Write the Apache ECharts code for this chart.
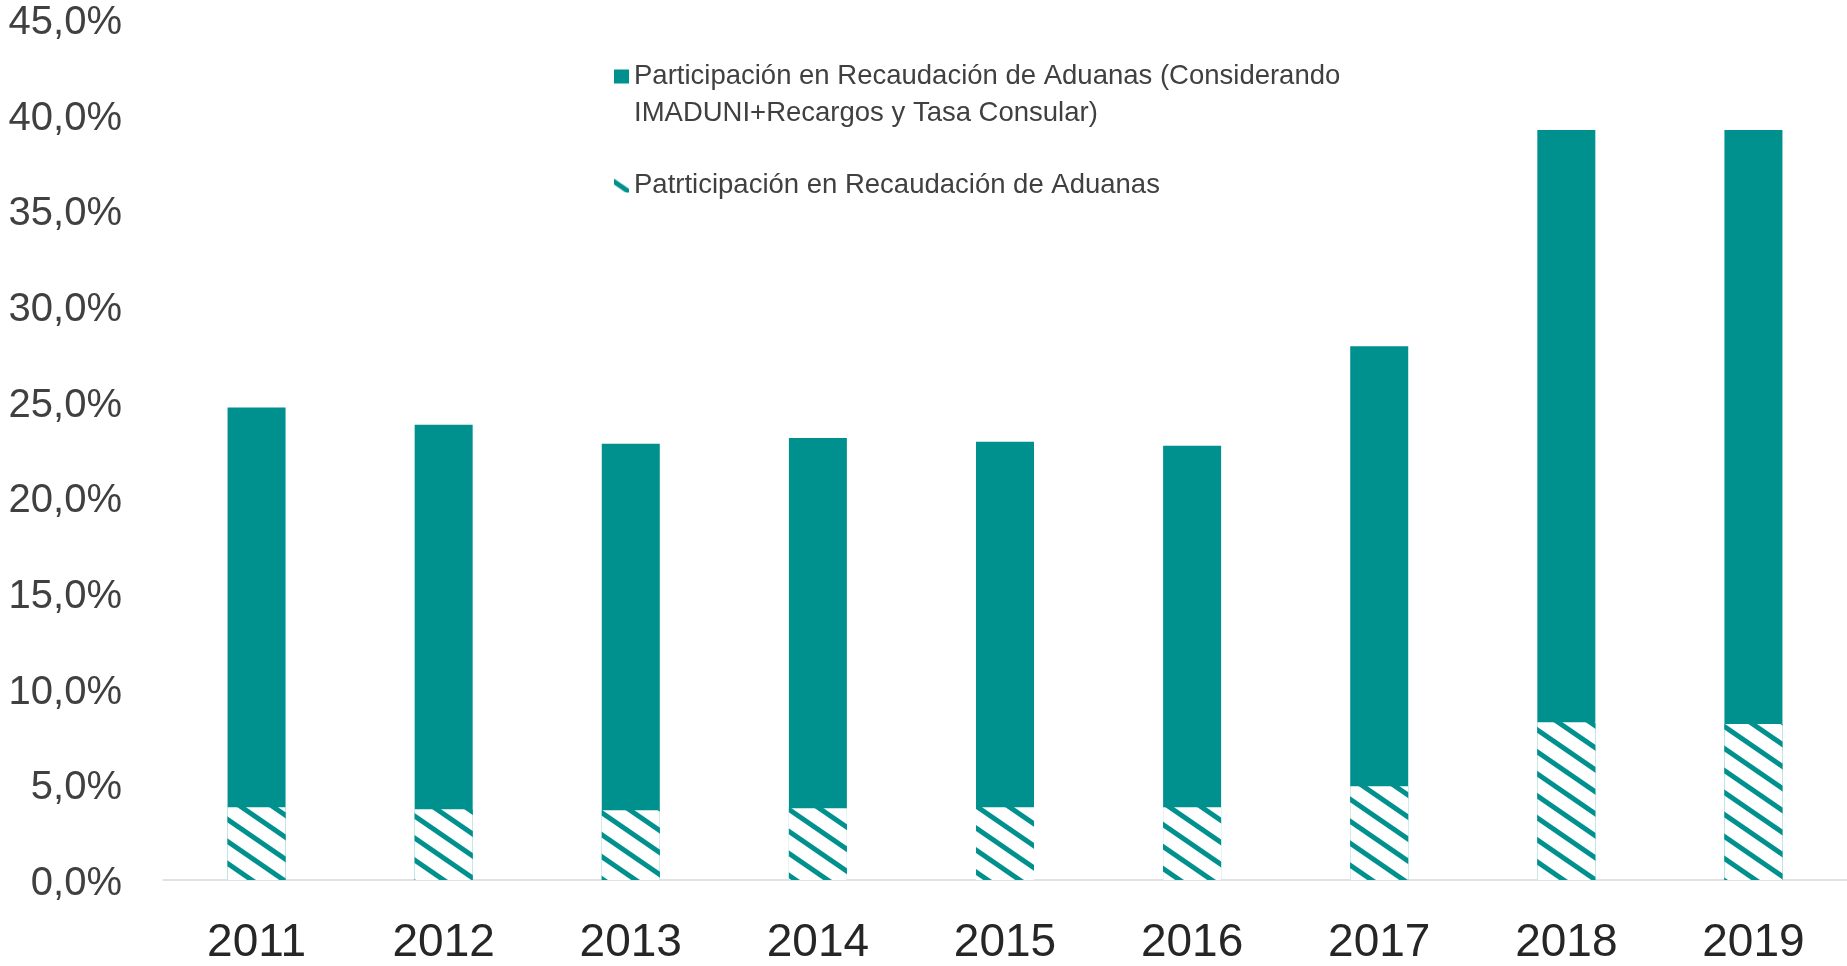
<!DOCTYPE html>
<html>
<head>
<meta charset="utf-8">
<title>Participación en Recaudación de Aduanas</title>
<script src="https://cdn.jsdelivr.net/npm/echarts@6/dist/echarts.min.js"></script>
<style>
  html, body { margin: 0; padding: 0; background: #fff; }
  #chart { width: 1847px; height: 966px; }
</style>
</head>
<body>
<div id="chart"></div>
<script>
  // datos (porcentaje)
  var years = ['2011', '2012', '2013', '2014', '2015', '2016', '2017', '2018', '2019'];
  var totalShare = [24.7, 23.8, 22.8, 23.1, 22.9, 22.7, 27.9, 39.2, 39.2];
  var customsShare = [3.8, 3.7, 3.65, 3.75, 3.8, 3.8, 4.9, 8.25, 8.15];
  var yTicks = [0, 5, 10, 15, 20, 25, 30, 35, 40, 45];

  var nameTotal = 'Participación en Recaudación de Aduanas (Considerando IMADUNI+Recargos y Tasa Consular)';
  var nameCustoms = 'Patrticipación en Recaudación de Aduanas';
  var teal = '#00918F';
  var font = '"Liberation Sans", Arial, sans-serif';

  // trama diagonal (blanco + franjas verde azuladas)
  function makeHatch() {
    var w = 32, h = 22, t = 6;
    var c = document.createElement('canvas');
    c.width = w; c.height = h;
    var ctx = c.getContext('2d');
    ctx.fillStyle = '#fff';
    ctx.fillRect(0, 0, w, h);
    ctx.fillStyle = teal;
    [0, -h, h].forEach(function (off) {
      ctx.beginPath();
      ctx.moveTo(0, off);
      ctx.lineTo(w, h + off);
      ctx.lineTo(w, h + t + off);
      ctx.lineTo(0, t + off);
      ctx.closePath();
      ctx.fill();
    });
    return c;
  }

  var myChart = echarts.init(document.getElementById('chart'));
  var option = {
    animation: false,
    textStyle: { fontFamily: font },
    grid: { left: 163, right: 0, top: 19, bottom: 86, containLabel: false, outerBoundsMode: 'none' },
    legend: {
      orient: 'vertical',
      left: 614,
      top: 21,
      padding: 0,
      itemWidth: 15,
      itemHeight: 14,
      itemGap: 35,
      icon: 'rect',
      textStyle: { fontSize: 27.5, color: '#404040', lineHeight: 37, fontFamily: font },
      formatter: function (name) {
        if (name === nameTotal) {
          // linea vacia arriba para que el icono quede junto a la primera linea
          return '\nParticipación en Recaudación de Aduanas (Considerando\nIMADUNI+Recargos y Tasa Consular)';
        }
        return name;
      },
      data: [nameTotal, nameCustoms]
    },
    xAxis: {
      type: 'category',
      data: years,
      axisLine: { lineStyle: { color: '#D9D9D9', width: 1.5 } },
      axisTick: { show: false },
      axisLabel: { fontSize: 46, color: '#262626', margin: 40 }
    },
    yAxis: {
      type: 'value',
      min: yTicks[0],
      max: yTicks[yTicks.length - 1],
      interval: 5,
      splitLine: { show: false },
      axisLine: { show: false },
      axisTick: { show: false },
      axisLabel: {
        fontSize: 40,
        color: '#404040',
        margin: 41,
        formatter: function (v) { return '{v|' + v.toFixed(1).replace('.', ',') + '%}'; },
        rich: {
          v: { fontSize: 40, color: '#404040', fontFamily: font, padding: [8, 0, 0, 0] }
        }
      }
    },
    series: [
      {
        name: nameTotal,
        type: 'bar',
        data: totalShare,
        barWidth: '31%',
        itemStyle: { color: teal }
      },
      {
        name: nameCustoms,
        type: 'bar',
        data: customsShare,
        barWidth: '31%',
        barGap: '-100%',
        itemStyle: { color: { image: makeHatch(), repeat: 'repeat' } }
      }
    ]
  };
  myChart.setOption(option);
  window.addEventListener('resize', function () { myChart.resize(); });
</script>
</body>
</html>
